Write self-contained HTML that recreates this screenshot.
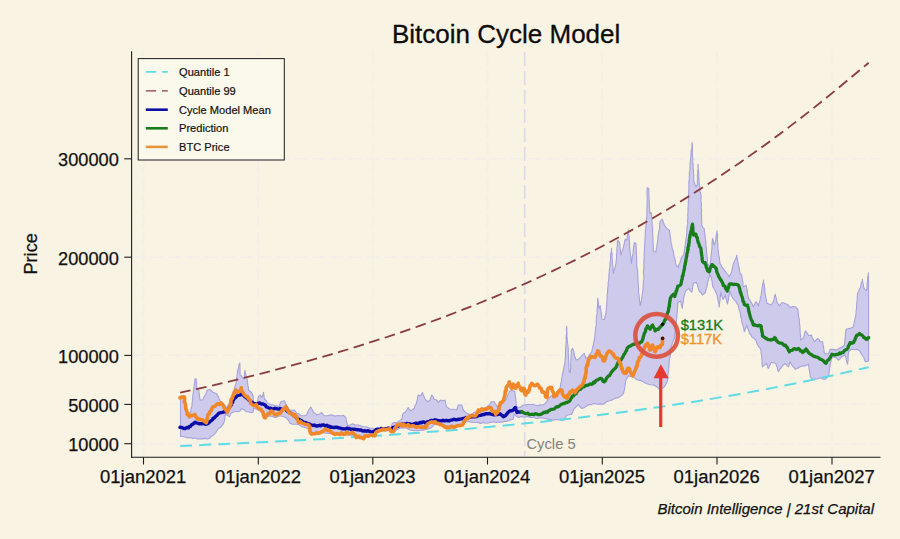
<!DOCTYPE html>
<html><head><meta charset="utf-8"><title>Bitcoin Cycle Model</title>
<style>
html,body{margin:0;padding:0;background:#f8f3e2;}
body{width:900px;height:539px;position:relative;overflow:hidden;font-family:"Liberation Sans",sans-serif;color:#111;}
.t{position:absolute;white-space:nowrap;line-height:1;}
.title{font-size:26px;color:#0d0d0d;-webkit-text-stroke:0.3px #0d0d0d;}
.ax{font-size:18.2px;color:#111;-webkit-text-stroke:0.25px #111;}
.xl{width:120px;text-align:center;font-size:18.45px;}
.ylab{transform:rotate(-90deg);transform-origin:center;width:41px;text-align:center;}
.lg{font-size:11.1px;color:#111;-webkit-text-stroke:0.2px #111;}
.cyc{font-size:14.8px;color:#85827a;}
.v1{font-size:14.7px;color:#197d1c;-webkit-text-stroke:0.35px #197d1c;}
.v2{font-size:14.7px;color:#ee9330;-webkit-text-stroke:0.35px #ee9330;}
.foot{font-size:15px;font-style:italic;color:#111;-webkit-text-stroke:0.25px #111;}
</style></head><body>
<svg width="900" height="539" viewBox="0 0 900 539" style="position:absolute;left:0;top:0">
<rect width="900" height="539" fill="#f8f3e2"/>
<line x1="132" x2="880" y1="158.8" y2="158.8" stroke="#efedf0" stroke-width="1.4" stroke-dasharray="13 5" opacity="0.65"/>
<line x1="132" x2="880" y1="257.2" y2="257.2" stroke="#efedf0" stroke-width="1.4" stroke-dasharray="13 5" opacity="0.65"/>
<line x1="132" x2="880" y1="355.4" y2="355.4" stroke="#efedf0" stroke-width="1.4" stroke-dasharray="13 5" opacity="0.65"/>
<line x1="132" x2="880" y1="404.4" y2="404.4" stroke="#efedf0" stroke-width="1.4" stroke-dasharray="13 5" opacity="0.65"/>
<line x1="132" x2="880" y1="443.7" y2="443.7" stroke="#efedf0" stroke-width="1.4" stroke-dasharray="13 5" opacity="0.65"/>
<line y1="52" y2="456" x1="143.5" x2="143.5" stroke="#efedf0" stroke-width="1.4" stroke-dasharray="13 5" opacity="0.55"/>
<line y1="52" y2="456" x1="258.3" x2="258.3" stroke="#efedf0" stroke-width="1.4" stroke-dasharray="13 5" opacity="0.55"/>
<line y1="52" y2="456" x1="372.8" x2="372.8" stroke="#efedf0" stroke-width="1.4" stroke-dasharray="13 5" opacity="0.55"/>
<line y1="52" y2="456" x1="487.5" x2="487.5" stroke="#efedf0" stroke-width="1.4" stroke-dasharray="13 5" opacity="0.55"/>
<line y1="52" y2="456" x1="602.3" x2="602.3" stroke="#efedf0" stroke-width="1.4" stroke-dasharray="13 5" opacity="0.55"/>
<line y1="52" y2="456" x1="717.0" x2="717.0" stroke="#efedf0" stroke-width="1.4" stroke-dasharray="13 5" opacity="0.55"/>
<line y1="52" y2="456" x1="832.0" x2="832.0" stroke="#efedf0" stroke-width="1.4" stroke-dasharray="13 5" opacity="0.55"/>
<line x1="524.7" x2="524.7" y1="52" y2="456" stroke="#dddae9" stroke-width="1.6" stroke-dasharray="14 5"/>
<path d="M180.5,396.0 L183.9,398.0 L184.3,399.9 L184.7,402.6 L185.2,404.0 L185.6,405.6 L186.0,408.0 L187.1,410.7 L188.0,413.0 L190.6,412.3 L191.1,408.9 L191.7,406.7 L192.1,404.1 L192.0,402.9 L192.6,401.2 L192.7,398.7 L192.7,395.9 L193.0,394.4 L193.4,392.3 L193.6,389.6 L193.9,387.2 L194.3,385.5 L194.5,383.4 L194.8,381.1 L195.0,378.9 L196.2,378.9 L196.2,380.8 L196.6,383.6 L196.6,385.4 L196.5,386.6 L196.7,388.9 L198.9,390.0 L198.9,391.7 L199.3,394.4 L199.5,396.5 L199.9,398.6 L200.0,400.0 L202.8,400.0 L203.8,397.1 L205.0,395.6 L205.8,394.3 L206.5,392.5 L207.3,390.0 L209.5,389.5 L211.3,390.3 L212.9,392.3 L216.2,393.4 L218.4,396.7 L219.1,399.0 L219.9,399.9 L220.7,402.3 L222.5,404.3 L224.0,405.0 L225.5,406.0 L227.3,408.0 L228.0,405.2 L228.9,403.9 L229.8,401.3 L230.7,399.0 L231.6,396.3 L232.4,394.0 L233.1,391.7 L234.0,390.0 L234.8,386.8 L235.7,384.5 L236.1,383.1 L236.4,380.1 L236.5,377.9 L236.9,376.8 L237.3,373.7 L237.4,372.2 L237.9,369.5 L238.5,367.9 L239.0,364.9 L239.8,362.9 L239.9,364.6 L240.0,367.2 L240.0,369.7 L240.0,372.8 L240.1,374.5 L241.8,376.7 L244.0,378.9 L244.4,376.8 L244.3,374.1 L244.7,372.9 L244.8,370.2 L245.2,372.0 L246.0,374.9 L246.3,376.7 L247.0,378.5 L247.4,381.1 L247.7,383.9 L247.8,385.4 L248.4,387.1 L248.5,390.0 L250.7,391.7 L251.9,393.3 L253.0,395.6 L253.3,397.5 L253.2,400.2 L253.5,402.3 L257.4,402.9 L257.9,400.4 L258.0,398.2 L258.5,396.7 L260.2,395.1 L261.9,397.3 L262.8,394.9 L263.5,392.3 L263.8,394.7 L264.1,397.4 L264.6,399.0 L265.9,400.3 L267.4,402.9 L270.8,404.5 L273.3,405.0 L275.1,405.5 L277.2,405.7 L279.2,406.7 L279.8,404.3 L280.8,401.7 L284.2,400.8 L285.6,403.1 L286.7,405.8 L288.4,408.6 L290.0,410.0 L292.1,410.3 L294.2,410.0 L295.3,411.1 L296.7,413.3 L298.9,413.9 L300.8,415.8 L303.9,415.7 L306.7,415.0 L307.8,411.8 L308.7,410.0 L310.8,407.0 L311.7,408.8 L312.7,410.4 L313.3,412.5 L315.0,413.2 L316.7,415.0 L319.4,414.1 L321.7,412.5 L323.0,414.5 L324.2,415.8 L327.3,415.8 L330.0,415.0 L332.3,415.1 L334.6,416.1 L336.7,415.8 L339.0,415.5 L341.1,416.0 L343.3,415.3 L345.8,417.5 L346.2,419.7 L346.7,421.8 L347.1,423.1 L347.5,425.8 L350.0,425.0 L352.5,423.7 L355.6,425.0 L358.3,425.0 L360.5,425.9 L362.8,426.5 L365.0,426.7 L367.6,427.4 L370.0,428.3 L372.6,428.2 L375.0,429.2 L377.3,428.2 L379.4,428.6 L381.7,428.3 L384.0,428.4 L386.4,428.1 L388.3,427.4 L390.8,427.5 L391.7,425.1 L392.5,423.3 L394.3,422.4 L396.4,422.8 L398.3,421.7 L400.2,420.4 L401.7,419.2 L402.3,417.0 L402.7,414.8 L403.3,413.3 L405.2,412.1 L406.7,410.0 L408.3,407.5 L409.5,409.7 L410.8,410.8 L412.4,409.7 L414.2,408.3 L415.0,405.6 L416.0,404.4 L416.7,401.7 L417.4,399.8 L417.6,396.9 L418.3,395.0 L420.8,395.8 L422.5,392.5 L423.2,394.7 L424.1,396.6 L425.0,399.2 L427.5,401.7 L430.0,400.0 L430.8,397.7 L431.7,395.0 L433.1,396.8 L434.2,399.2 L436.7,400.0 L438.3,402.5 L440.8,400.0 L442.9,400.7 L445.0,400.0 L445.4,401.6 L445.9,405.0 L446.7,406.7 L448.4,408.2 L450.0,409.2 L453.3,409.2 L456.7,410.0 L457.6,407.2 L458.3,405.0 L461.7,405.0 L462.3,406.8 L463.3,410.0 L464.8,411.6 L466.7,413.3 L469.1,414.2 L471.7,414.2 L474.0,412.4 L476.7,411.7 L478.9,410.7 L481.2,409.6 L483.3,408.3 L486.0,407.5 L488.3,405.8 L489.9,404.0 L491.7,401.7 L494.2,401.7 L495.3,403.7 L496.7,405.8 L499.0,409.0 L499.9,406.4 L500.7,405.5 L501.7,403.3 L503.7,401.3 L505.8,400.0 L506.7,398.2 L507.6,396.0 L508.5,393.6 L509.2,391.7 L511.7,390.0 L515.0,391.7 L515.0,394.3 L515.5,396.3 L515.5,397.2 L515.9,399.9 L516.0,401.6 L516.2,404.3 L516.3,405.8 L518.1,407.3 L520.0,407.5 L521.5,406.5 L523.3,405.0 L525.9,404.9 L528.3,404.2 L530.6,404.7 L532.9,404.3 L535.0,405.0 L537.3,405.7 L539.3,405.1 L541.4,404.7 L543.3,405.0 L544.9,403.8 L546.7,401.7 L548.3,398.7 L550.0,396.8 L551.8,395.7 L553.1,394.5 L555.0,393.4 L556.5,392.2 L558.2,390.5 L560.0,388.4 L560.5,386.2 L560.5,383.9 L561.1,382.4 L561.4,380.9 L561.7,378.4 L562.1,376.9 L562.4,374.9 L563.0,371.8 L563.4,370.1 L563.9,367.7 L564.2,366.1 L564.6,364.3 L565.0,361.7 L565.1,359.4 L565.4,358.1 L565.5,355.2 L565.5,354.2 L565.4,351.6 L565.7,349.5 L565.6,347.5 L565.9,346.0 L566.0,343.3 L566.2,341.0 L566.1,339.2 L566.0,337.2 L566.3,334.9 L566.6,333.4 L566.4,330.3 L566.5,328.0 L566.6,326.4 L566.9,328.9 L566.7,330.5 L567.0,332.2 L566.9,335.3 L567.0,337.2 L567.2,338.4 L567.3,341.2 L567.5,343.0 L567.9,344.9 L568.1,347.2 L568.3,348.7 L568.3,350.8 L568.2,353.0 L568.4,355.4 L568.5,357.2 L568.5,359.5 L568.8,361.1 L568.8,363.7 L569.0,366.1 L568.9,368.1 L569.2,370.0 L569.2,371.7 L570.4,372.6 L570.4,371.1 L570.8,368.2 L570.9,366.0 L570.6,364.9 L570.9,362.0 L570.8,359.9 L571.0,358.7 L571.0,356.6 L571.3,354.0 L571.2,351.4 L571.4,350.0 L572.6,348.4 L573.6,351.2 L574.2,353.4 L574.6,356.3 L575.4,357.8 L575.9,360.0 L578.4,359.2 L580.1,357.6 L581.7,355.9 L584.3,353.4 L584.9,355.5 L585.9,358.4 L588.4,356.7 L589.3,354.5 L590.7,353.4 L591.8,351.7 L592.2,349.5 L592.7,346.6 L593.5,345.2 L593.6,342.9 L594.3,340.0 L594.8,337.1 L595.0,335.4 L595.1,333.0 L595.4,331.0 L595.5,328.8 L596.0,326.4 L596.3,324.7 L596.2,321.9 L596.3,320.7 L596.4,317.9 L596.4,316.3 L596.9,314.9 L597.1,312.6 L597.0,310.5 L597.2,308.4 L597.4,306.9 L597.6,303.9 L597.7,302.6 L597.6,300.7 L597.8,298.2 L598.2,300.8 L598.4,302.6 L598.5,304.8 L598.6,306.8 L599.0,308.6 L600.1,305.6 L600.4,307.6 L600.6,309.4 L601.1,312.5 L601.5,314.2 L601.5,317.0 L601.9,319.0 L604.2,319.7 L604.7,317.9 L605.1,315.6 L605.7,314.2 L606.1,311.5 L606.4,309.4 L606.3,307.5 L606.8,304.6 L606.9,301.7 L607.1,299.7 L607.1,296.6 L607.2,294.7 L607.6,292.1 L607.6,290.0 L607.8,288.0 L608.0,286.6 L608.2,284.6 L608.2,282.3 L608.7,280.0 L608.9,277.2 L608.9,275.4 L609.1,273.4 L609.3,271.8 L609.3,269.8 L609.7,268.2 L609.9,265.5 L610.0,263.1 L610.3,261.4 L610.6,258.7 L610.5,256.6 L610.7,254.4 L611.2,252.2 L611.5,250.4 L611.5,248.4 L611.4,250.8 L612.0,253.3 L612.1,254.1 L612.0,256.7 L612.1,259.5 L612.5,261.0 L612.4,263.3 L612.6,265.1 L613.0,267.9 L612.9,269.4 L613.3,271.6 L613.5,273.5 L613.8,271.1 L614.3,269.5 L615.1,267.4 L615.4,265.4 L616.0,263.5 L616.1,261.5 L616.3,259.6 L616.6,257.8 L616.5,255.3 L616.9,252.3 L616.9,251.1 L616.9,248.4 L617.2,246.7 L617.4,244.5 L617.3,242.6 L617.6,240.1 L619.3,241.8 L619.8,243.7 L620.0,246.8 L620.0,247.8 L620.4,250.3 L620.5,253.1 L621.0,255.1 L621.4,253.1 L622.3,250.4 L622.9,248.9 L623.5,246.8 L624.1,244.1 L624.6,241.4 L625.2,239.3 L626.8,240.1 L627.3,238.4 L627.3,235.5 L627.9,234.5 L628.0,232.5 L628.5,230.1 L628.5,232.0 L628.7,234.6 L629.1,236.4 L629.1,238.0 L629.4,240.6 L629.3,242.2 L629.7,243.8 L629.5,245.8 L629.8,248.4 L630.0,250.6 L630.2,253.0 L630.4,255.3 L630.8,256.6 L630.9,258.6 L631.3,261.7 L631.5,263.5 L631.6,261.0 L632.2,259.0 L632.2,256.8 L632.7,255.2 L633.1,253.3 L633.2,251.1 L633.5,248.4 L633.8,245.9 L634.3,242.6 L636.0,243.4 L636.0,245.3 L636.3,248.3 L636.2,249.4 L636.3,251.7 L636.4,253.9 L636.5,255.7 L636.6,258.7 L636.7,260.9 L636.8,262.1 L636.7,265.2 L636.9,266.8 L637.5,270.0 L637.6,271.5 L637.7,274.4 L637.9,277.1 L637.8,279.0 L638.2,280.8 L638.0,282.3 L638.4,285.4 L638.4,286.7 L638.6,288.9 L638.5,291.8 L638.7,293.7 L639.1,295.7 L639.4,298.5 L639.5,300.7 L640.0,303.9 L640.2,305.6 L640.7,303.4 L641.2,301.5 L641.5,299.5 L642.0,296.7 L642.3,294.9 L642.6,292.7 L642.8,290.5 L643.0,288.4 L643.2,285.6 L643.3,283.8 L643.4,281.0 L643.8,278.9 L643.9,276.9 L643.5,274.0 L643.5,271.8 L643.6,269.4 L643.9,267.5 L643.7,265.1 L643.9,263.2 L643.8,262.1 L644.0,259.1 L644.3,257.8 L644.1,255.0 L644.2,253.2 L644.5,251.2 L644.4,249.7 L644.5,247.1 L644.8,245.1 L644.8,243.2 L644.8,241.9 L645.1,239.1 L645.0,238.0 L645.3,235.5 L645.2,233.4 L645.3,231.3 L645.8,228.7 L645.7,227.7 L646.0,225.3 L646.4,222.9 L646.2,221.4 L646.5,218.4 L646.8,216.9 L646.9,215.0 L647.0,213.2 L646.8,210.3 L646.9,208.4 L647.0,207.1 L647.2,204.7 L647.1,202.0 L647.2,199.8 L647.2,197.4 L647.2,196.5 L647.0,193.3 L647.0,192.1 L647.2,189.7 L647.2,187.6 L648.7,188.5 L648.8,191.2 L648.8,193.2 L648.9,195.2 L648.9,197.4 L649.0,199.4 L649.2,201.1 L649.4,202.6 L649.3,204.9 L649.4,206.7 L649.6,209.3 L649.7,211.2 L649.7,213.5 L651.2,212.5 L651.4,214.1 L651.8,216.8 L651.9,219.5 L651.9,220.5 L652.2,223.4 L652.2,225.7 L652.4,227.5 L652.7,228.8 L652.5,231.9 L652.6,233.7 L652.8,235.4 L652.8,237.3 L653.1,239.5 L653.0,241.3 L653.1,244.0 L653.3,246.3 L653.3,248.1 L653.3,250.2 L653.6,251.8 L656.1,251.8 L656.2,249.0 L656.8,247.4 L657.0,244.3 L657.4,242.9 L657.7,240.1 L657.9,237.5 L658.1,235.5 L658.4,233.8 L658.8,232.5 L659.2,229.9 L659.5,228.2 L659.6,225.6 L659.7,223.6 L660.2,221.7 L662.2,219.2 L663.0,221.0 L663.8,223.8 L664.4,225.1 L665.7,227.0 L666.9,228.4 L669.4,230.1 L669.6,231.6 L670.0,234.3 L670.2,236.2 L670.7,239.0 L670.9,241.6 L671.1,243.4 L671.7,244.9 L672.1,248.0 L672.6,249.2 L673.2,250.9 L673.6,253.4 L674.1,256.4 L674.7,258.4 L675.3,260.0 L675.5,262.9 L676.1,265.1 L678.3,267.6 L678.9,264.7 L679.8,263.2 L680.6,260.5 L681.1,258.5 L682.3,256.6 L683.6,255.1 L684.1,252.5 L684.4,250.4 L684.6,248.9 L684.8,246.8 L685.4,245.2 L685.5,243.0 L685.9,240.0 L686.1,238.4 L686.5,235.9 L686.6,233.6 L686.7,232.2 L686.9,229.6 L687.1,226.7 L687.5,225.1 L687.8,223.7 L687.6,221.1 L687.8,219.1 L687.9,216.6 L687.7,215.1 L688.0,212.1 L688.0,210.0 L688.0,208.5 L688.2,206.3 L688.3,204.3 L688.2,202.3 L688.5,200.0 L688.4,198.2 L688.6,196.5 L688.6,193.7 L688.7,191.9 L688.8,190.0 L688.9,187.5 L688.9,185.9 L688.8,183.4 L688.9,181.2 L689.3,179.4 L689.2,177.3 L689.5,175.2 L689.3,173.0 L689.8,171.5 L689.9,169.5 L689.9,167.5 L690.1,165.1 L690.1,163.2 L690.4,160.5 L690.6,158.9 L690.9,156.3 L690.9,154.9 L691.1,152.5 L691.2,150.3 L691.8,149.2 L691.9,146.8 L692.0,144.4 L692.1,142.5 L692.3,144.1 L692.4,146.6 L692.5,148.0 L692.4,150.0 L692.3,153.2 L692.5,154.2 L692.5,156.4 L692.9,159.2 L692.8,160.5 L692.7,162.8 L693.2,164.0 L693.1,166.7 L693.2,168.6 L693.6,171.6 L693.4,173.1 L693.8,175.0 L693.6,178.0 L693.8,180.1 L694.0,181.8 L694.9,184.3 L696.0,186.8 L697.1,185.1 L697.4,183.5 L697.4,180.5 L697.6,178.4 L697.3,176.1 L697.5,175.0 L697.9,173.1 L697.6,170.8 L698.1,168.7 L697.8,166.2 L698.1,164.2 L698.1,165.9 L698.2,168.7 L698.3,170.0 L698.7,172.8 L698.8,174.5 L698.9,177.3 L698.9,178.5 L699.1,181.5 L699.2,182.7 L699.3,185.1 L699.8,186.5 L700.0,189.0 L700.1,191.1 L700.6,193.2 L701.0,195.1 L701.2,196.8 L701.0,198.5 L701.0,201.5 L701.2,202.8 L701.4,204.7 L701.1,207.8 L701.4,209.0 L701.6,210.9 L701.3,213.1 L701.5,215.2 L701.6,216.9 L701.6,219.5 L701.8,221.1 L701.7,223.4 L701.7,225.1 L702.8,227.4 L704.2,228.4 L704.3,230.9 L704.6,232.8 L705.0,234.7 L705.3,237.4 L705.4,238.7 L705.7,240.9 L705.9,243.4 L705.9,245.4 L706.3,247.6 L706.6,249.5 L706.4,251.0 L706.7,252.8 L706.9,255.4 L707.2,257.1 L707.4,258.9 L707.4,261.6 L707.6,263.5 L708.7,265.6 L710.1,266.8 L710.2,264.2 L710.4,262.0 L710.7,260.7 L710.9,258.1 L711.2,255.8 L711.2,253.8 L711.6,251.7 L711.7,250.1 L712.0,248.2 L712.0,244.8 L712.1,242.9 L712.2,241.4 L712.6,238.4 L713.2,240.6 L713.5,243.5 L714.2,245.1 L715.4,241.8 L715.8,239.6 L716.0,236.8 L716.3,235.8 L716.7,232.9 L717.1,230.9 L717.0,232.9 L717.5,234.5 L717.5,237.7 L717.4,239.1 L717.5,241.6 L717.9,243.6 L717.8,245.6 L718.0,248.6 L718.1,250.1 L718.4,251.7 L718.6,254.8 L719.2,256.6 L719.5,259.5 L719.8,261.8 L720.1,263.5 L721.8,266.8 L723.2,268.4 L724.3,270.2 L725.7,271.7 L726.8,273.5 L728.0,274.8 L729.3,276.8 L730.6,273.9 L731.8,271.8 L732.1,269.3 L732.6,267.3 L733.0,265.3 L733.4,263.5 L735.1,260.1 L736.0,258.3 L736.8,255.1 L737.0,257.6 L737.3,258.9 L737.8,261.4 L738.0,262.8 L738.5,265.1 L738.8,266.8 L739.5,269.2 L739.6,271.7 L740.1,273.5 L741.8,275.2 L742.0,277.3 L742.4,280.5 L742.9,282.6 L743.0,285.1 L743.5,286.9 L746.0,285.2 L746.4,287.2 L747.0,289.0 L747.4,291.6 L747.5,294.0 L748.0,296.1 L748.5,298.4 L750.0,300.3 L751.8,303.4 L753.5,306.7 L754.6,304.3 L756.0,301.7 L757.2,303.5 L758.5,305.9 L758.8,304.0 L759.4,302.2 L760.1,300.2 L760.4,297.4 L761.0,295.9 L761.4,293.6 L761.6,291.8 L761.8,290.4 L762.2,287.7 L762.4,285.6 L762.9,283.3 L763.3,282.1 L763.5,280.0 L763.7,282.9 L764.2,284.7 L764.4,286.3 L764.8,289.2 L764.8,291.7 L765.2,293.4 L765.4,295.6 L765.8,297.3 L766.2,298.8 L766.6,301.2 L766.9,303.4 L768.8,303.9 L771.0,305.1 L772.2,303.3 L773.5,301.7 L774.1,298.7 L774.5,296.3 L775.2,294.2 L775.7,296.5 L776.4,298.7 L776.9,301.7 L778.2,304.1 L779.4,305.9 L780.4,304.5 L781.9,302.5 L784.3,303.2 L786.9,304.2 L788.5,305.3 L790.2,307.6 L792.7,306.5 L795.2,306.7 L797.8,309.2 L798.1,311.4 L798.2,313.2 L798.5,314.8 L798.9,318.1 L799.2,319.4 L799.4,321.8 L799.5,323.4 L799.9,326.0 L799.9,327.7 L800.1,330.6 L800.2,332.1 L800.3,333.9 L800.6,335.7 L800.6,338.6 L800.8,340.1 L803.6,337.6 L804.0,335.9 L804.8,332.6 L805.4,330.9 L806.9,332.9 L808.6,335.5 L811.5,335.1 L812.3,338.0 L813.3,339.1 L814.3,341.8 L815.9,340.4 L817.7,338.4 L819.0,339.4 L820.2,341.8 L822.7,341.8 L822.9,344.0 L823.4,346.4 L823.7,348.8 L824.1,351.2 L824.3,353.4 L826.3,354.1 L828.5,353.4 L829.5,351.1 L830.2,349.3 L833.2,349.4 L836.0,350.1 L838.2,349.1 L840.2,347.6 L842.4,347.0 L844.4,345.1 L844.7,342.4 L844.9,340.5 L845.0,338.1 L845.4,336.4 L845.5,333.4 L845.7,331.2 L846.1,329.2 L848.0,328.8 L850.2,328.4 L853.6,326.7 L853.8,323.9 L854.5,321.7 L854.8,319.5 L855.3,318.2 L855.8,315.1 L856.1,313.4 L856.1,311.9 L856.4,309.1 L856.5,307.8 L856.6,305.7 L856.7,303.7 L857.0,301.2 L857.2,299.9 L857.2,297.5 L857.4,295.7 L857.5,293.4 L858.6,291.9 L859.4,288.9 L860.5,287.5 L860.9,285.7 L861.2,283.0 L862.1,281.5 L862.4,279.3 L862.7,282.4 L863.3,284.4 L863.7,286.8 L864.2,289.0 L866.5,290.5 L866.9,288.9 L867.1,285.4 L867.0,283.3 L867.5,281.3 L867.5,280.1 L867.7,276.9 L868.2,275.0 L868.4,272.7 L868.3,274.7 L868.6,277.4 L868.4,278.9 L868.6,281.5 L868.5,284.2 L868.6,285.9 L868.4,288.3 L868.6,290.0 L868.6,361.0 L865.3,361.8 L864.3,359.2 L863.8,357.4 L862.8,356.0 L861.4,353.9 L860.3,351.8 L858.8,350.2 L856.9,349.3 L854.5,349.7 L851.9,349.3 L850.4,350.1 L848.6,351.8 L848.3,354.5 L848.1,356.5 L848.1,358.4 L848.1,360.5 L847.8,361.7 L847.7,364.3 L846.9,362.6 L846.2,359.9 L845.9,356.9 L845.2,355.1 L841.9,356.8 L840.1,358.6 L838.5,360.1 L836.0,357.6 L833.8,357.1 L831.9,356.8 L831.6,358.8 L831.2,360.7 L830.4,362.9 L830.2,365.1 L829.9,366.9 L829.4,369.3 L829.3,371.3 L828.9,373.9 L828.5,376.0 L826.7,377.8 L825.2,379.3 L822.6,379.1 L820.2,377.7 L817.7,378.8 L815.4,379.1 L812.7,379.3 L810.2,376.8 L810.1,374.5 L809.7,372.4 L809.5,370.9 L809.1,368.8 L808.8,366.9 L808.5,364.3 L805.1,366.0 L802.6,365.9 L800.1,366.8 L797.8,368.3 L795.1,369.3 L793.9,367.2 L792.4,366.1 L791.2,363.6 L790.1,361.8 L789.4,363.8 L788.4,366.8 L786.7,365.4 L785.1,363.5 L783.4,364.8 L781.8,366.8 L780.6,368.6 L779.7,369.4 L778.4,371.8 L777.8,370.2 L777.2,367.3 L776.4,365.5 L775.9,363.5 L773.5,362.7 L770.9,362.6 L770.2,364.8 L769.1,366.5 L768.4,368.5 L767.4,366.4 L766.7,363.5 L764.6,364.9 L762.5,366.8 L762.2,364.9 L762.0,362.7 L762.0,360.0 L761.8,358.8 L761.7,356.5 L761.3,353.8 L761.1,352.5 L761.0,350.2 L760.0,348.0 L759.0,347.0 L757.7,345.1 L757.0,343.5 L756.1,340.6 L755.2,339.3 L753.3,338.1 L751.8,336.8 L750.6,334.6 L749.4,332.6 L748.5,330.1 L747.5,327.6 L746.8,325.1 L745.9,327.5 L745.1,329.8 L744.3,331.8 L743.9,329.3 L743.1,326.2 L742.5,324.1 L741.8,322.1 L741.6,319.0 L740.9,317.3 L740.6,315.2 L740.1,312.7 L739.7,310.4 L739.0,309.5 L738.6,306.9 L737.8,304.8 L736.5,302.6 L735.7,301.0 L734.3,299.9 L732.7,298.0 L731.5,295.5 L730.7,293.7 L729.7,290.6 L729.3,293.0 L729.2,294.5 L728.8,296.8 L728.4,299.4 L727.9,302.1 L727.5,304.0 L726.9,302.1 L726.2,299.4 L725.9,297.7 L725.3,295.1 L724.3,297.2 L723.1,299.5 L722.1,297.1 L721.5,294.9 L720.8,292.1 L720.4,294.7 L720.4,296.7 L720.1,297.8 L720.1,300.6 L719.7,302.3 L719.4,304.9 L719.3,306.9 L719.0,305.5 L718.7,303.3 L718.3,301.1 L717.8,299.4 L717.5,297.2 L717.1,295.1 L716.1,292.7 L714.9,290.6 L713.8,288.1 L712.7,286.2 L712.3,283.8 L712.1,281.1 L711.5,279.7 L711.2,277.3 L709.7,274.3 L709.3,276.6 L708.6,279.1 L708.1,281.4 L707.5,283.2 L707.1,285.8 L706.4,288.3 L705.7,290.7 L705.3,292.8 L702.3,295.1 L701.2,292.9 L699.6,291.7 L698.6,289.1 L697.7,286.5 L697.1,283.9 L696.4,282.4 L693.4,283.2 L692.9,285.3 L692.6,288.1 L692.4,289.3 L691.9,292.1 L690.2,290.8 L688.9,288.4 L686.0,290.6 L685.0,292.9 L684.4,295.2 L683.7,298.0 L683.5,300.0 L683.2,302.4 L682.7,304.2 L682.4,306.0 L682.3,308.4 L681.7,306.4 L681.2,304.1 L680.8,301.0 L677.8,302.5 L677.8,304.2 L677.6,306.4 L677.5,308.8 L677.4,311.4 L677.1,313.3 L676.8,315.7 L676.8,318.0 L676.5,320.3 L676.2,322.5 L676.1,324.1 L675.9,325.5 L675.4,328.7 L675.4,330.5 L675.1,332.5 L675.0,334.4 L674.4,335.7 L674.3,338.4 L673.5,340.0 L672.5,342.5 L671.8,345.1 L671.4,346.6 L671.0,348.7 L670.7,352.0 L670.4,353.2 L670.4,355.1 L670.1,357.3 L669.5,359.2 L669.3,361.8 L669.0,363.2 L669.0,365.9 L668.7,367.8 L668.7,370.3 L668.5,371.8 L668.2,373.3 L667.9,376.2 L668.0,378.2 L667.6,380.0 L666.7,382.6 L666.0,384.0 L664.5,386.6 L663.0,388.0 L659.4,389.3 L656.9,386.8 L653.6,385.1 L651.1,384.8 L648.6,384.3 L646.4,383.6 L644.1,382.6 L641.9,380.9 L640.0,380.4 L638.0,380.0 L636.0,379.3 L633.5,376.7 L630.8,376.4 L628.5,375.9 L627.3,377.5 L626.0,380.1 L625.5,382.4 L625.2,384.8 L624.8,387.2 L624.5,389.6 L624.1,390.6 L623.5,393.4 L621.9,395.4 L620.1,396.5 L618.5,397.6 L615.8,398.1 L613.5,399.3 L610.9,400.5 L608.5,401.0 L606.0,402.0 L603.5,404.3 L601.0,403.9 L598.4,404.3 L595.9,403.9 L593.4,403.5 L591.1,404.9 L589.0,404.5 L586.8,406.0 L584.1,407.7 L581.7,408.5 L579.9,406.9 L578.4,404.3 L576.1,407.0 L574.2,408.5 L573.3,410.6 L572.6,412.0 L571.7,414.3 L569.3,414.8 L566.7,415.2 L565.0,418.2 L563.4,420.2 L561.3,420.3 L559.2,419.8 L557.5,419.5 L555.4,419.8 L553.4,420.2 L551.3,419.6 L549.1,419.4 L547.3,418.9 L545.0,418.5 L541.7,418.0 L539.6,417.9 L537.8,418.5 L535.7,418.2 L533.8,417.2 L531.7,417.5 L529.7,417.1 L527.1,416.5 L525.0,417.0 L522.7,416.9 L521.0,416.5 L518.8,417.5 L516.7,416.7 L514.2,414.2 L513.7,416.2 L513.3,419.2 L510.9,419.7 L508.3,420.8 L506.4,421.5 L504.4,421.2 L502.4,422.2 L500.5,422.1 L498.3,422.0 L495.9,422.5 L493.7,421.7 L491.5,422.2 L489.6,422.4 L487.2,423.3 L485.0,423.0 L483.0,422.4 L480.8,423.4 L479.1,422.9 L477.0,422.5 L475.0,422.5 L473.1,422.3 L471.0,422.3 L468.9,421.5 L466.7,421.7 L464.5,422.6 L462.0,424.0 L459.6,424.8 L457.2,426.2 L455.0,426.5 L452.9,425.7 L450.8,426.4 L449.2,426.0 L447.1,425.6 L445.0,426.0 L443.0,425.0 L441.2,425.8 L439.0,424.7 L436.8,423.9 L435.0,424.2 L433.3,425.6 L431.7,427.5 L429.1,428.8 L426.7,429.2 L424.4,430.1 L422.3,429.9 L420.3,430.2 L418.3,430.8 L416.2,430.6 L414.0,430.8 L411.9,430.3 L410.0,430.0 L406.7,428.3 L404.0,427.6 L401.0,428.0 L399.0,428.4 L396.9,429.6 L395.0,431.0 L392.6,430.5 L390.3,430.8 L388.0,430.5 L385.5,431.2 L383.2,430.7 L380.8,431.8 L378.3,431.5 L376.1,432.3 L373.8,434.7 L371.7,436.0 L369.5,436.5 L367.4,437.0 L365.0,437.5 L362.9,436.7 L361.0,437.1 L358.8,436.5 L356.7,437.0 L354.4,436.3 L351.9,435.7 L349.9,435.1 L347.2,435.2 L345.0,435.0 L343.0,434.3 L341.0,434.9 L339.1,434.1 L336.9,434.1 L335.0,434.5 L333.1,433.7 L330.9,433.7 L329.1,433.4 L327.0,433.4 L325.0,433.0 L323.0,432.9 L321.1,433.7 L319.2,433.4 L317.1,434.0 L315.0,434.5 L313.5,432.6 L311.8,432.0 L310.0,430.0 L307.7,428.6 L305.0,427.5 L302.8,426.9 L301.0,426.3 L298.6,424.4 L296.7,424.2 L294.6,424.2 L292.2,424.2 L290.0,423.3 L288.4,420.2 L286.7,418.3 L284.7,417.1 L282.8,416.4 L281.0,416.0 L279.0,416.0 L277.0,417.1 L275.0,417.5 L272.5,416.4 L270.0,416.0 L267.5,416.1 L265.0,417.0 L263.4,414.9 L262.0,413.0 L260.1,411.0 L258.0,410.0 L255.9,409.0 L253.5,407.9 L253.3,410.8 L253.0,412.3 L250.9,412.6 L248.4,411.7 L246.3,411.8 L244.0,409.9 L241.8,408.4 L239.6,411.2 L236.8,411.6 L234.0,411.8 L230.7,413.4 L229.6,416.8 L227.5,415.6 L225.1,414.5 L224.9,416.8 L224.5,420.3 L224.0,422.3 L223.0,424.5 L221.8,425.7 L220.4,427.6 L219.0,428.1 L217.3,430.0 L215.6,432.9 L213.2,435.3 L211.3,436.2 L209.6,438.4 L207.2,439.0 L204.8,438.4 L202.4,438.9 L199.9,438.8 L197.4,439.0 L195.0,438.0 L192.7,438.4 L190.2,437.6 L188.0,437.9 L185.5,437.2 L183.1,436.5 L180.5,436.5Z" fill="#cdcaec" stroke="#a6a3da" stroke-width="1.1" stroke-linejoin="round"/>
<path d="M180.2,446.0 C186.9,445.7 206.9,444.8 220.2,444.2 C233.5,443.6 246.9,442.9 260.2,442.3 C273.5,441.7 286.9,441.0 300.2,440.3 C313.5,439.6 326.9,438.8 340.2,438.0 C353.5,437.2 366.9,436.4 380.2,435.5 C393.5,434.6 406.9,433.6 420.2,432.6 C433.5,431.6 446.9,430.6 460.2,429.5 C473.5,428.4 486.9,427.2 500.2,425.9 C513.5,424.6 526.9,423.3 540.2,421.9 C553.5,420.5 566.9,419.0 580.2,417.4 C593.5,415.8 606.9,414.1 620.2,412.4 C633.5,410.6 646.9,408.8 660.2,406.9 C673.5,404.9 686.9,402.9 700.2,400.7 C713.5,398.5 726.9,396.3 740.2,393.9 C753.5,391.5 766.9,389.0 780.2,386.4 C793.5,383.8 806.9,381.0 820.2,378.1 C833.5,375.2 852.1,371.0 860.2,369.1 C868.3,367.2 867.2,367.4 868.6,367.0" fill="none" stroke="#5fdbe6" stroke-width="2" stroke-dasharray="12 7"/>
<path d="M180.2,392.7 C186.9,391.2 206.9,386.8 220.2,383.6 C233.5,380.5 246.9,377.2 260.2,373.8 C273.5,370.4 286.9,366.9 300.2,363.2 C313.5,359.5 326.9,355.7 340.2,351.7 C353.5,347.7 366.9,343.5 380.2,339.2 C393.5,334.9 406.9,330.4 420.2,325.6 C433.5,320.9 446.9,315.9 460.2,310.7 C473.5,305.5 486.9,300.1 500.2,294.5 C513.5,288.9 526.9,283.0 540.2,276.8 C553.5,270.6 566.9,264.2 580.2,257.5 C593.5,250.8 606.9,243.8 620.2,236.5 C633.5,229.2 646.9,221.7 660.2,213.8 C673.5,205.9 686.9,197.7 700.2,189.1 C713.5,180.5 726.9,171.6 740.2,162.4 C753.5,153.2 766.9,143.6 780.2,133.7 C793.5,123.8 806.9,113.4 820.2,102.8 C833.5,92.2 852.1,76.5 860.2,69.8 C868.3,63.1 867.2,64.0 868.6,62.8" fill="none" stroke="#8a3b3f" stroke-width="1.8" stroke-dasharray="10.7 5.6"/>
<path d="M180.0,427.3 L181.3,427.4 L182.6,427.9 L183.9,428.5 L185.2,428.5 L187.0,427.5 L188.4,427.9 L189.4,426.5 L190.6,426.3 L191.7,424.6 L192.8,424.2 L193.8,423.2 L195.0,422.3 L196.3,422.9 L197.4,423.1 L198.4,423.5 L199.7,423.7 L201.4,423.8 L202.8,423.5 L203.9,423.4 L205.4,424.3 L206.7,424.0 L207.8,423.6 L208.8,422.9 L209.7,421.8 L210.6,421.2 L211.7,420.3 L212.3,419.9 L213.2,418.1 L214.2,418.2 L215.1,416.8 L216.1,416.0 L217.3,414.9 L218.4,413.7 L219.5,412.9 L221.1,412.6 L222.7,412.4 L224.0,411.8 L225.3,411.7 L226.1,410.9 L227.3,410.1 L228.3,409.4 L229.0,408.3 L229.7,407.0 L230.7,405.6 L231.3,404.9 L231.6,403.1 L232.5,402.7 L233.0,400.7 L233.3,400.0 L234.0,399.0 L234.9,397.9 L235.5,397.7 L236.4,396.6 L237.4,395.6 L238.8,395.3 L240.5,394.9 L241.8,393.9 L243.1,394.9 L243.9,395.6 L245.0,396.9 L246.3,397.8 L247.4,398.4 L248.4,399.9 L249.7,400.2 L250.7,401.7 L252.0,402.1 L252.9,403.3 L254.1,403.4 L255.2,404.0 L256.7,403.8 L258.2,403.3 L259.6,402.9 L261.1,404.0 L262.7,403.9 L264.1,404.5 L265.1,405.0 L266.3,406.8 L267.2,407.1 L268.5,407.9 L269.7,408.2 L270.9,408.2 L272.0,409.2 L273.3,408.9 L275.0,408.3 L276.3,408.6 L277.6,408.9 L279.1,409.1 L280.2,408.4 L281.7,409.2 L283.5,409.4 L285.0,409.2 L286.1,409.7 L287.1,411.0 L288.3,411.7 L289.5,412.4 L290.8,413.2 L292.0,413.9 L293.3,415.0 L294.1,416.2 L295.4,416.8 L296.2,417.3 L297.2,418.7 L298.3,419.2 L299.4,419.4 L300.4,420.5 L301.6,420.6 L302.7,421.8 L303.8,422.4 L305.0,422.5 L306.4,422.8 L307.7,424.0 L308.9,423.7 L310.2,424.5 L311.7,425.0 L313.1,425.5 L314.3,424.9 L315.7,425.8 L316.9,426.0 L318.3,425.8 L319.5,425.2 L320.7,425.8 L322.0,425.0 L323.3,425.0 L324.5,425.2 L325.6,426.1 L327.1,425.3 L328.3,426.6 L329.5,426.3 L330.4,427.2 L331.7,427.0 L333.2,427.5 L334.5,427.5 L335.8,427.2 L337.1,427.3 L338.5,427.9 L340.0,428.0 L341.2,428.5 L342.8,428.8 L344.3,428.9 L345.6,429.0 L347.0,428.1 L348.3,428.8 L349.4,428.5 L350.7,429.3 L352.1,429.1 L353.0,429.4 L354.4,429.1 L355.6,429.5 L356.7,429.7 L358.0,429.7 L359.6,430.1 L361.0,429.9 L362.3,430.9 L363.4,431.0 L365.0,430.8 L366.5,431.2 L367.6,430.7 L369.0,431.2 L370.4,431.7 L371.7,432.0 L373.2,431.7 L375.0,430.8 L376.0,429.7 L377.0,429.3 L378.3,429.2 L379.8,429.7 L381.0,428.5 L382.3,428.7 L383.7,428.6 L385.0,428.7 L386.3,428.8 L387.6,428.3 L389.0,428.2 L390.3,429.0 L391.7,428.7 L393.0,427.5 L394.5,427.2 L395.8,426.7 L396.9,426.5 L398.2,426.1 L399.3,425.1 L400.6,424.7 L401.7,424.2 L403.1,424.0 L404.2,424.0 L405.7,424.0 L407.0,423.4 L408.3,423.8 L409.7,423.8 L410.8,424.5 L412.2,424.6 L413.3,424.2 L414.6,423.6 L416.1,423.1 L417.5,423.4 L418.7,423.2 L420.0,422.5 L421.4,422.8 L422.7,422.0 L423.9,421.9 L425.2,422.8 L426.7,422.5 L427.7,421.6 L429.0,422.2 L430.4,420.7 L431.6,420.4 L432.7,420.7 L433.8,420.6 L435.0,419.7 L436.2,420.3 L437.7,420.5 L438.9,420.6 L440.5,420.9 L441.7,420.8 L443.0,420.3 L444.5,420.9 L445.5,420.5 L447.0,420.5 L448.3,420.8 L449.6,420.8 L450.9,420.1 L452.3,419.8 L453.7,419.3 L455.0,419.5 L456.3,419.9 L457.6,419.5 L459.1,419.3 L460.4,419.1 L461.7,418.8 L463.1,418.5 L464.2,418.8 L465.7,417.5 L467.0,418.3 L468.3,417.5 L469.7,417.3 L470.9,416.8 L472.4,416.7 L473.6,416.6 L475.0,416.7 L476.5,416.6 L477.8,415.8 L479.1,415.6 L480.3,415.4 L481.7,415.0 L482.8,414.4 L484.3,414.5 L485.6,413.8 L487.1,413.7 L488.3,413.7 L489.8,413.5 L491.0,414.1 L492.4,414.3 L493.7,414.9 L495.0,414.7 L496.3,414.4 L497.5,414.6 L498.9,414.2 L500.0,413.7 L501.0,414.7 L502.3,415.4 L503.3,416.7 L504.6,416.1 L505.5,415.5 L506.7,414.2 L507.7,412.7 L509.0,411.6 L510.0,410.8 L511.8,410.8 L513.3,410.0 L514.4,408.5 L515.3,407.5 L515.7,408.5 L516.0,410.3 L516.7,410.8 L517.0,412.5 L518.5,412.0 L520.2,412.1 L521.7,411.7" fill="none" stroke="#0c0ca6" stroke-width="3.4" stroke-linejoin="round" stroke-linecap="round"/>
<path d="M521.7,411.7 L523.1,412.4 L524.4,413.2 L525.7,413.6 L526.7,413.7 L527.9,413.1 L529.3,414.7 L530.3,414.7 L531.7,414.2 L532.9,414.3 L534.4,414.5 L535.5,413.7 L537.2,414.2 L538.3,414.7 L539.5,414.7 L540.8,414.4 L542.1,413.7 L543.8,412.3 L545.0,412.7 L546.0,411.7 L547.4,412.3 L548.6,410.7 L549.6,410.5 L550.8,409.4 L551.7,409.3 L553.3,409.1 L554.3,408.9 L555.6,407.6 L556.9,406.7 L558.4,406.8 L559.7,405.7 L561.0,404.4 L562.1,404.1 L563.4,403.5 L564.6,403.6 L565.9,402.4 L566.9,402.6 L568.4,401.8 L569.0,401.6 L570.2,400.3 L571.0,398.1 L571.8,397.7 L572.3,396.2 L573.4,396.0 L574.5,394.5 L575.2,393.5 L576.1,393.7 L576.7,391.8 L577.7,391.1 L578.4,390.1 L579.6,388.8 L580.8,389.2 L582.0,387.3 L582.8,386.6 L584.2,386.8 L585.1,385.9 L586.6,385.3 L587.7,385.3 L589.0,384.6 L590.3,383.9 L591.8,384.3 L593.0,383.8 L593.6,382.1 L594.8,382.6 L595.7,380.8 L596.8,380.1 L598.1,379.7 L599.0,378.9 L600.1,378.4 L601.3,378.5 L602.2,379.4 L603.1,381.5 L604.3,381.8 L605.2,381.2 L605.8,380.0 L606.4,378.2 L607.3,377.3 L607.8,376.6 L608.5,375.9 L609.5,375.6 L610.1,374.6 L611.1,372.7 L611.8,371.7 L612.8,370.6 L613.9,369.3 L615.2,368.4 L616.1,367.0 L616.5,366.6 L617.0,364.6 L617.7,363.4 L618.4,361.7 L619.5,361.9 L620.3,360.2 L621.1,359.8 L621.8,358.4 L622.6,357.5 L623.3,355.8 L623.8,354.5 L624.6,354.1 L625.2,352.5 L626.1,351.0 L626.6,350.4 L627.2,348.2 L627.9,347.5 L628.5,346.7 L629.8,346.1 L630.9,345.8 L631.9,345.0 L633.3,344.2 L634.7,344.3 L635.9,343.4 L637.2,342.8 L638.4,343.4 L639.7,343.2 L640.6,342.1 L641.8,341.8 L642.3,340.1 L642.5,340.1 L643.0,338.5 L643.1,337.4 L643.6,336.2 L643.9,334.9 L644.3,333.4 L645.0,332.3 L645.5,331.1 L645.8,328.9 L646.6,328.3 L647.1,326.7 L647.6,325.9 L648.2,327.2 L649.1,328.1 L650.1,329.3 L650.5,327.5 L651.2,326.9 L651.8,325.7 L652.6,325.1 L653.0,326.2 L653.6,327.6 L654.3,328.2 L654.6,328.9 L655.1,330.9 L656.2,330.0 L657.5,329.2 L658.5,329.3 L659.1,328.1 L659.9,327.4 L660.9,326.3 L662.0,325.3 L662.6,324.2 L663.2,323.5 L664.0,322.4 L664.5,320.5 L665.4,319.7 L666.0,318.4 L666.6,317.9 L666.6,316.2 L666.8,315.4 L667.5,313.0 L667.6,312.6 L668.3,311.4 L668.5,310.0 L668.7,308.6 L668.8,307.2 L669.0,307.2 L669.5,305.9 L669.3,304.2 L669.6,303.6 L669.7,301.5 L670.0,301.2 L670.2,298.9 L670.4,298.0 L671.5,296.2 L672.3,295.4 L673.4,294.3 L674.3,295.9 L674.8,296.5 L675.2,294.4 L675.8,293.6 L675.8,293.1 L676.1,291.0 L676.6,290.8 L677.0,288.9 L677.5,287.7 L677.8,286.2 L679.1,285.8 L680.8,284.7 L681.0,283.9 L681.3,282.3 L681.6,280.6 L681.8,279.7 L682.2,278.9 L682.3,276.5 L682.9,275.9 L683.0,275.4 L683.3,273.5 L683.7,271.5 L683.8,270.9 L684.1,270.1 L684.5,268.5 L684.5,267.1 L684.6,266.6 L685.2,264.4 L685.4,262.8 L685.5,262.6 L685.9,260.7 L685.8,260.4 L686.2,258.5 L686.4,257.2 L686.7,256.0 L686.9,254.2 L686.9,254.1 L687.5,251.9 L687.6,251.6 L687.8,249.2 L688.2,249.5 L687.9,247.9 L688.2,246.9 L688.8,245.4 L688.6,244.3 L689.2,242.4 L689.2,241.0 L689.2,240.2 L689.4,239.3 L689.7,237.3 L690.0,236.7 L690.0,234.8 L690.6,234.3 L690.5,233.6 L690.9,231.6 L691.2,230.6 L691.4,229.9 L691.8,227.2 L692.0,226.1 L692.4,225.5 L692.4,224.2 L692.6,225.5 L692.7,226.2 L692.9,227.4 L692.7,229.1 L692.9,229.8 L693.0,231.8 L693.3,233.0 L693.5,233.2 L693.5,235.1 L694.5,234.0 L695.9,234.2 L696.1,235.6 L696.6,237.2 L697.1,237.5 L697.4,238.2 L697.5,239.5 L698.1,242.1 L698.4,242.6 L698.7,243.3 L699.5,245.7 L699.7,246.6 L700.3,247.4 L700.9,248.4 L701.0,249.2 L701.2,251.0 L701.2,251.9 L701.6,253.8 L701.7,255.0 L701.9,256.3 L702.1,257.1 L702.2,258.5 L702.1,258.7 L702.3,260.1 L702.7,261.8 L703.9,262.8 L705.1,262.6 L705.2,264.2 L706.0,264.9 L706.1,266.3 L706.3,267.2 L706.7,267.9 L707.2,269.4 L707.6,270.8 L709.2,271.8 L709.5,271.2 L710.0,269.0 L710.4,267.7 L711.0,266.6 L711.7,265.1 L711.9,264.6 L713.1,265.2 L713.9,266.6 L715.0,267.1 L715.7,268.0 L716.2,268.5 L716.6,270.0 L716.7,271.8 L717.0,272.1 L717.4,273.3 L718.2,274.7 L718.4,276.0 L719.0,276.9 L719.7,278.1 L720.5,279.7 L721.0,279.9 L721.8,281.5 L722.6,282.9 L723.0,284.0 L723.4,285.6 L724.3,286.0 L725.2,286.5 L725.5,288.4 L726.7,289.8 L727.2,291.0 L727.5,289.9 L727.8,288.0 L728.4,288.1 L728.7,287.0 L729.1,284.8 L729.7,284.0 L730.7,284.0 L732.1,283.9 L733.4,284.5 L734.5,284.4 L736.2,284.3 L737.3,284.7 L738.6,285.5 L739.0,286.6 L739.3,287.4 L739.7,288.7 L740.1,291.3 L740.3,292.5 L740.8,292.4 L741.2,294.5 L741.6,295.7 L742.0,296.8 L742.6,298.6 L742.7,299.2 L743.0,301.3 L743.4,301.4 L744.0,302.6 L744.3,304.5 L745.9,305.4 L747.6,305.2 L747.7,305.8 L748.0,307.2 L748.5,308.7 L748.5,309.6 L748.8,311.6 L749.2,312.0 L749.4,313.5 L749.8,314.8 L750.2,316.5 L750.5,317.3 L751.1,319.2 L751.5,320.3 L752.2,321.1 L752.7,322.7 L753.1,324.2 L753.5,325.1 L755.0,325.0 L756.1,325.4 L757.7,325.9 L759.2,325.2 L761.0,325.9 L761.3,326.8 L761.2,328.2 L761.7,330.2 L761.6,330.3 L762.0,331.8 L762.5,334.3 L762.4,335.2 L762.7,336.3 L763.7,336.8 L764.5,337.3 L765.9,338.3 L766.8,338.8 L768.1,339.6 L769.6,339.7 L771.2,340.1 L772.3,339.6 L773.6,339.1 L774.6,337.6 L775.4,338.1 L776.3,340.6 L777.1,340.9 L778.0,342.2 L779.6,343.0 L781.0,343.1 L782.2,343.4 L783.1,344.4 L784.3,345.6 L785.6,345.2 L786.4,346.8 L787.2,347.3 L788.1,349.3 L788.5,350.4 L789.4,351.8 L790.3,350.7 L791.4,350.5 L792.4,350.1 L793.5,349.0 L794.6,348.6 L796.2,349.5 L797.3,349.1 L798.5,348.4 L799.4,349.3 L800.6,351.0 L801.5,350.8 L802.7,352.6 L803.6,351.1 L804.2,351.4 L805.1,350.4 L806.0,349.0 L807.0,350.4 L807.8,351.4 L808.2,352.1 L809.3,353.4 L810.4,354.1 L811.3,354.3 L812.2,355.3 L813.5,356.3 L814.6,356.3 L815.9,356.9 L817.3,357.1 L818.2,357.6 L819.5,358.7 L820.4,359.2 L821.5,359.5 L822.4,360.1 L823.6,360.9 L824.8,362.5 L826.0,363.2 L826.7,361.7 L827.7,360.2 L828.7,359.8 L829.5,358.5 L830.0,357.8 L830.6,357.1 L831.1,355.7 L831.9,354.3 L833.2,354.7 L834.6,355.0 L835.8,354.6 L836.9,354.3 L838.2,354.3 L839.4,353.0 L840.5,353.7 L841.9,352.6 L843.2,352.5 L844.2,350.8 L845.5,349.9 L846.9,349.3 L847.6,348.4 L848.1,347.7 L848.4,345.8 L849.1,345.1 L849.6,344.1 L850.2,342.6 L851.8,343.2 L853.6,342.6 L854.0,341.0 L854.9,340.3 L855.3,338.3 L855.7,338.0 L856.4,335.7 L856.9,335.1 L858.3,334.8 L859.4,333.4 L860.5,334.6 L861.7,334.9 L862.8,335.9 L863.8,337.7 L865.1,337.8 L866.1,339.3 L867.2,339.2 L868.6,337.6" fill="none" stroke="#197d1c" stroke-width="3.3" stroke-linejoin="round" stroke-linecap="round"/>
<path d="M180.0,397.8 L181.8,397.1 L183.9,396.7 L184.5,397.1 L184.5,398.2 L184.4,402.3 L185.1,402.8 L185.2,402.7 L185.6,405.6 L185.8,407.7 L185.8,409.2 L186.0,409.3 L187.0,411.6 L187.2,413.3 L187.2,414.5 L188.6,415.3 L189.5,416.8 L190.7,415.1 L192.3,415.7 L195.0,414.5 L196.0,416.5 L196.2,417.3 L197.3,419.0 L198.7,418.6 L200.6,419.6 L202.6,419.7 L204.0,421.2 L206.2,422.9 L207.0,420.3 L206.7,420.7 L207.5,417.5 L207.9,414.8 L208.4,414.5 L208.9,414.3 L209.7,412.0 L211.2,410.6 L211.7,409.0 L213.0,406.7 L215.1,406.2 L216.6,404.4 L217.7,403.6 L219.5,404.5 L221.2,402.9 L222.5,404.2 L223.0,405.2 L224.0,406.7 L224.5,408.5 L225.4,409.7 L226.9,411.2 L227.3,412.3 L227.9,409.6 L228.1,409.8 L229.5,407.4 L229.6,406.7 L229.7,406.7 L230.9,404.2 L231.0,401.3 L231.2,399.2 L231.8,399.0 L232.4,398.1 L232.5,397.0 L233.8,394.3 L234.0,393.4 L234.8,392.0 L235.7,390.0 L237.4,392.3 L239.6,391.2 L240.9,389.2 L241.3,387.8 L241.4,389.5 L242.2,391.7 L242.9,392.3 L243.8,393.8 L245.2,395.6 L246.1,396.6 L247.5,396.6 L248.5,399.0 L249.5,399.3 L250.2,400.5 L250.7,403.4 L253.0,405.1 L254.6,405.7 L256.3,404.5 L257.2,406.6 L258.4,408.2 L259.6,409.0 L261.2,409.3 L261.8,410.9 L263.0,412.3 L263.4,414.8 L263.8,415.6 L264.4,417.5 L265.2,417.9 L266.7,415.1 L267.8,413.9 L268.5,413.4 L269.7,413.8 L270.8,411.2 L271.8,411.0 L273.5,412.9 L275.0,415.0 L277.1,414.8 L278.0,413.4 L280.0,413.3 L280.8,412.4 L282.3,409.9 L283.3,410.0 L284.2,408.9 L285.8,406.7 L286.8,407.9 L287.4,410.2 L288.3,410.8 L289.4,413.1 L291.3,413.7 L292.5,414.2 L293.9,416.2 L294.9,414.7 L296.7,416.7 L297.0,418.2 L297.6,420.0 L298.3,421.9 L299.2,422.5 L300.4,421.5 L302.2,423.2 L303.3,423.4 L305.0,424.2 L307.3,424.5 L308.7,425.0 L309.4,426.6 L309.8,426.6 L309.7,430.7 L310.0,431.1 L310.3,432.5 L311.5,434.1 L313.5,433.7 L315.0,433.7 L316.9,432.6 L318.0,433.4 L320.0,432.8 L321.7,431.7 L323.5,431.1 L325.1,429.2 L326.7,430.0 L328.7,430.5 L330.3,430.9 L331.7,432.5 L333.5,433.6 L334.6,434.4 L336.7,433.7 L338.5,434.1 L339.9,434.5 L341.4,432.8 L343.3,434.2 L344.7,434.3 L346.5,432.4 L348.4,433.4 L350.0,433.3 L352.3,432.3 L354.2,434.2 L355.5,435.4 L356.3,437.5 L358.5,436.0 L360.3,437.8 L361.7,437.5 L363.6,438.7 L364.9,435.7 L366.9,435.8 L368.3,436.3 L369.7,435.2 L371.3,434.8 L373.3,435.8 L374.9,435.7 L375.8,432.7 L376.7,431.7 L378.4,431.0 L380.2,430.2 L381.7,430.0 L383.1,429.0 L384.7,429.7 L387.0,429.2 L388.3,429.2 L389.6,428.6 L391.2,431.8 L393.3,431.7 L394.5,429.3 L395.0,428.3 L395.8,427.5 L397.0,424.8 L398.3,425.0 L400.2,424.1 L401.9,425.9 L403.3,424.2 L405.4,425.6 L407.0,425.7 L408.3,424.7 L409.6,426.7 L411.7,425.8 L413.1,425.7 L415.0,426.7 L416.7,427.2 L418.7,426.6 L419.8,427.0 L421.7,427.5 L423.7,426.8 L425.8,427.5 L426.7,426.4 L427.2,424.5 L428.3,423.3 L429.8,422.7 L431.7,421.8 L433.3,422.5 L435.2,421.8 L436.3,423.5 L438.3,423.3 L439.8,424.5 L441.7,424.8 L443.3,425.8 L445.3,427.2 L446.4,427.6 L448.3,427.5 L449.8,427.6 L451.7,426.1 L453.3,427.5 L455.3,426.8 L456.9,425.8 L458.3,425.8 L460.0,425.4 L462.5,425.0 L463.1,424.0 L463.8,421.8 L465.0,420.0 L467.0,417.7 L468.3,418.3 L469.7,416.1 L471.3,415.6 L473.3,415.8 L475.4,416.0 L476.7,414.2 L477.4,412.5 L478.3,410.0 L480.0,411.2 L481.8,408.9 L483.3,410.0 L484.8,409.2 L486.7,409.2 L488.2,407.8 L490.0,407.5 L491.2,407.9 L492.3,411.4 L493.3,411.7 L494.7,411.5 L495.8,414.2 L496.6,411.4 L497.6,412.5 L498.3,410.0 L499.0,409.7 L499.0,406.3 L500.0,405.4 L500.1,403.2 L500.8,402.5 L501.9,402.4 L503.3,400.8 L503.8,399.7 L503.7,399.2 L504.8,395.5 L505.0,395.0 L505.0,393.8 L505.4,390.6 L506.4,390.1 L506.1,387.5 L506.7,386.7 L507.5,385.6 L508.8,384.4 L509.2,381.7 L510.0,384.7 L510.1,385.0 L511.0,387.6 L511.7,388.3 L512.6,386.1 L513.3,384.2 L514.2,387.0 L515.4,388.2 L515.8,388.3 L516.5,385.4 L517.7,386.1 L518.3,383.3 L518.6,386.4 L519.9,386.7 L520.3,388.4 L520.8,390.0 L521.8,390.6 L523.3,388.3 L524.2,388.6 L524.3,391.9 L525.0,394.3 L525.8,395.0 L526.5,392.6 L527.4,391.1 L528.3,392.1 L529.2,390.0 L529.4,389.7 L530.1,385.7 L530.8,385.2 L531.7,383.3 L533.4,385.1 L535.0,385.8 L537.5,384.2 L538.6,385.8 L539.5,387.8 L540.0,388.3 L541.0,388.4 L542.1,391.9 L543.3,391.7 L544.1,392.5 L545.3,393.6 L545.5,396.5 L546.7,397.5 L547.0,397.4 L547.3,393.7 L547.4,394.3 L547.5,390.0 L548.1,388.6 L548.3,388.4 L550.3,387.4 L551.7,387.6 L551.7,388.3 L552.2,390.6 L552.7,391.6 L553.5,392.8 L553.7,396.6 L554.2,396.8 L555.1,396.1 L556.4,395.8 L557.5,393.4 L558.9,390.9 L559.4,390.3 L560.9,390.1 L562.0,390.3 L562.4,394.1 L563.6,395.3 L564.2,396.8 L565.6,396.4 L566.7,398.5 L567.8,397.8 L568.1,394.5 L569.1,394.5 L569.6,392.7 L570.1,391.8 L571.2,392.1 L572.6,390.1 L574.2,391.4 L575.1,392.6 L576.6,389.8 L577.3,389.2 L578.4,388.4 L580.1,386.4 L581.4,385.8 L582.6,384.3 L583.6,381.6 L584.0,382.3 L584.3,379.0 L585.1,378.4 L584.9,376.6 L585.4,376.4 L585.5,374.8 L586.2,372.2 L586.1,370.5 L586.3,367.0 L587.0,366.4 L586.8,365.1 L587.8,365.0 L587.8,363.6 L588.5,359.3 L589.3,359.2 L590.6,356.5 L592.6,356.7 L595.1,357.5 L595.5,356.1 L596.2,354.5 L597.4,351.9 L597.6,350.9 L598.8,351.6 L599.4,354.3 L600.1,355.9 L601.6,356.1 L602.6,358.4 L603.2,360.8 L604.3,360.9 L604.9,359.3 L605.5,357.8 L605.6,356.8 L606.5,355.4 L606.8,353.4 L608.1,352.0 L609.3,350.9 L611.8,352.5 L612.6,354.3 L613.4,354.1 L614.3,356.7 L616.2,358.4 L617.7,358.4 L618.5,358.8 L619.4,362.0 L620.2,363.4 L620.8,363.8 L621.2,367.0 L621.8,369.2 L622.0,367.9 L622.7,370.9 L623.6,372.8 L625.2,373.4 L626.2,373.1 L626.6,370.9 L627.7,368.4 L629.3,368.6 L630.2,371.7 L631.0,373.1 L632.1,374.6 L632.7,375.9 L633.6,374.1 L634.4,372.0 L634.4,372.1 L635.2,370.1 L636.0,368.4 L636.4,366.2 L637.1,366.3 L637.5,362.6 L637.7,361.7 L638.8,360.6 L639.3,357.6 L640.2,357.5 L641.3,355.9 L641.5,354.4 L642.7,353.0 L643.5,350.3 L643.8,350.5 L644.3,347.6 L645.6,344.9 L646.3,345.9 L647.6,343.4 L648.0,345.0 L649.1,345.4 L649.1,347.4 L650.1,350.1 L650.6,349.7 L652.1,347.5 L652.6,345.1 L653.1,346.0 L654.0,347.6 L654.7,351.5 L655.1,351.8 L656.0,350.1 L657.0,348.2 L657.6,346.8 L660.1,347.6 L660.5,345.5 L661.1,345.3 L662.2,344.7 L662.6,341.8 L662.2,339.2 L662.6,338.4" fill="none" stroke="#f0882a" stroke-width="3.6" stroke-linejoin="round" stroke-linecap="round"/>
<circle cx="662.6" cy="324.2" r="1.8" fill="#111"/>
<circle cx="662.6" cy="338.4" r="1.8" fill="#3a1010"/>
<circle cx="656.6" cy="335.4" r="21.3" fill="none" stroke="#dc4f3c" stroke-opacity="0.9" stroke-width="4.5"/>
<line x1="660.7" x2="660.7" y1="427" y2="376" stroke="#e53a2c" stroke-width="3.2"/>
<path d="M660.9,364.2 L668.6,378.2 L653.6,378.2 Z" fill="#e53a2c"/>
<line x1="131.6" x2="131.6" y1="51.2" y2="457.7" stroke="#1c1c1c" stroke-width="1.1"/>
<line x1="131" x2="880.5" y1="457.2" y2="457.2" stroke="#1c1c1c" stroke-width="1.1"/>
<line x1="124.3" x2="131.6" y1="158.8" y2="158.8" stroke="#1c1c1c" stroke-width="1.1"/>
<line x1="124.3" x2="131.6" y1="257.2" y2="257.2" stroke="#1c1c1c" stroke-width="1.1"/>
<line x1="124.3" x2="131.6" y1="355.4" y2="355.4" stroke="#1c1c1c" stroke-width="1.1"/>
<line x1="124.3" x2="131.6" y1="404.4" y2="404.4" stroke="#1c1c1c" stroke-width="1.1"/>
<line x1="124.3" x2="131.6" y1="443.7" y2="443.7" stroke="#1c1c1c" stroke-width="1.1"/>
<line y1="457.2" y2="464.5" x1="143.5" x2="143.5" stroke="#1c1c1c" stroke-width="1.1"/>
<line y1="457.2" y2="464.5" x1="258.3" x2="258.3" stroke="#1c1c1c" stroke-width="1.1"/>
<line y1="457.2" y2="464.5" x1="372.8" x2="372.8" stroke="#1c1c1c" stroke-width="1.1"/>
<line y1="457.2" y2="464.5" x1="487.5" x2="487.5" stroke="#1c1c1c" stroke-width="1.1"/>
<line y1="457.2" y2="464.5" x1="602.3" x2="602.3" stroke="#1c1c1c" stroke-width="1.1"/>
<line y1="457.2" y2="464.5" x1="717.0" x2="717.0" stroke="#1c1c1c" stroke-width="1.1"/>
<line y1="457.2" y2="464.5" x1="832.0" x2="832.0" stroke="#1c1c1c" stroke-width="1.1"/>
<rect x="138.2" y="58.6" width="146.1" height="101.4" fill="#fbf8ec" stroke="#1c1c1c" stroke-width="1"/>
<line x1="145.8" x2="167.8" y1="71.9" y2="71.9" stroke="#5fdbe6" stroke-width="1.7" stroke-dasharray="10.4 5.8"/>
<line x1="145.8" x2="167.8" y1="90.9" y2="90.9" stroke="#8a3b3f" stroke-width="1.3" stroke-dasharray="10.4 5.8"/>
<line x1="145.8" x2="167.8" y1="109.7" y2="109.7" stroke="#0c0ca6" stroke-width="2.6"/>
<line x1="145.8" x2="167.8" y1="128.3" y2="128.3" stroke="#197d1c" stroke-width="2.6"/>
<line x1="145.8" x2="167.8" y1="146.9" y2="146.9" stroke="#e8963c" stroke-width="2.6"/>
</svg>
<div class="t title" style="left:392px;top:21.4px;">Bitcoin Cycle Model</div>
<div class="t ax" style="right:781.2px;top:151.2px;">300000</div>
<div class="t ax" style="right:781.2px;top:249.6px;">200000</div>
<div class="t ax" style="right:781.2px;top:347.8px;">100000</div>
<div class="t ax" style="right:781.2px;top:396.8px;">50000</div>
<div class="t ax" style="right:781.2px;top:436.1px;">10000</div>
<div class="t ax xl" style="left:83.2px;top:468.1px;">01jan2021</div>
<div class="t ax xl" style="left:198.0px;top:468.1px;">01jan2022</div>
<div class="t ax xl" style="left:312.5px;top:468.1px;">01jan2023</div>
<div class="t ax xl" style="left:427.2px;top:468.1px;">01jan2024</div>
<div class="t ax xl" style="left:542.0px;top:468.1px;">01jan2025</div>
<div class="t ax xl" style="left:656.7px;top:468.1px;">01jan2026</div>
<div class="t ax xl" style="left:771.7px;top:468.1px;">01jan2027</div>
<div class="t ax ylab" style="left:10.8px;top:245px;">Price</div>
<div class="t lg" style="left:179px;top:66.7px;">Quantile 1</div>
<div class="t lg" style="left:179px;top:85.7px;">Quantile 99</div>
<div class="t lg" style="left:179px;top:104.5px;">Cycle Model Mean</div>
<div class="t lg" style="left:179px;top:123.1px;">Prediction</div>
<div class="t lg" style="left:179px;top:141.7px;">BTC Price</div>
<div class="t cyc" style="left:526.4px;top:437.1px;">Cycle 5</div>
<div class="t v1" style="left:680.7px;top:317.9px;">$131K</div>
<div class="t v2" style="left:680.7px;top:332.4px;">$117K</div>
<div class="t foot" style="right:26.0px;top:501.3px;">Bitcoin Intelligence <span style="display:inline-block;transform:skewX(-12deg)">|</span> 21st Capital</div>
</body></html>
